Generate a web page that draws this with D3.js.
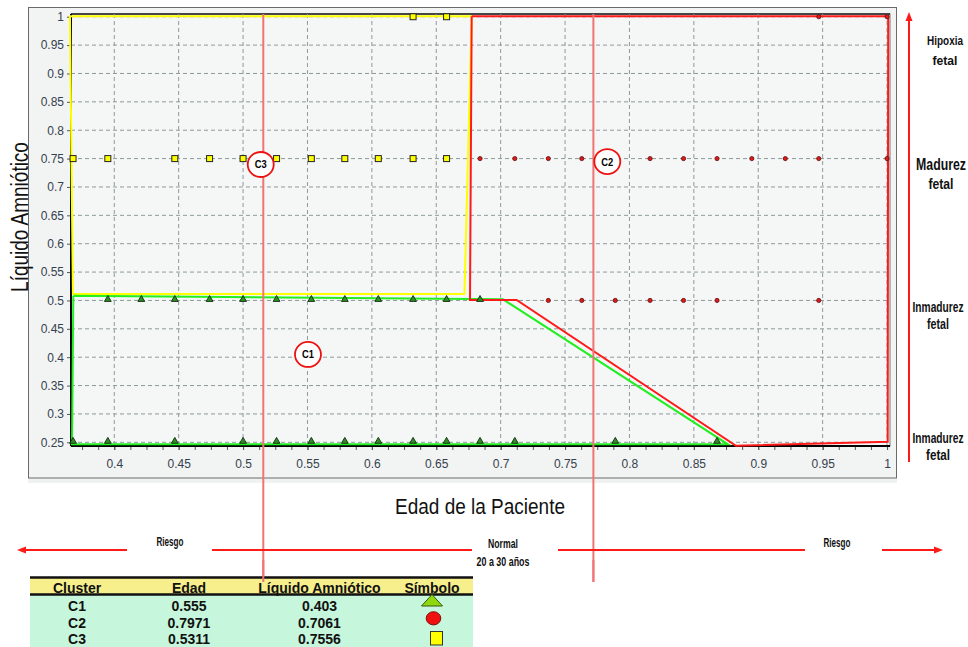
<!DOCTYPE html>
<html>
<head>
<meta charset="utf-8">
<script src="https://cdn.jsdelivr.net/npm/d3@7"></script>
<style>
  body { margin: 0; background: #fff; }
  svg { display: block; }
</style>
</head>
<body>
<svg class="chart" width="968" height="647"></svg>
<script>
// Clusters: Edad de la Paciente vs Liquido Amniotico

// ---- data ----
var xTicks = [0.4, 0.45, 0.5, 0.55, 0.6, 0.65, 0.7, 0.75, 0.8, 0.85, 0.9, 0.95, 1];
var yTicks = [0.25, 0.3, 0.35, 0.4, 0.45, 0.5, 0.55, 0.6, 0.65, 0.7, 0.75, 0.8, 0.85, 0.9, 0.95, 1];
var xMinor = [0.375, 0.3875, 0.4, 0.4125, 0.425, 0.4375, 0.45, 0.4625, 0.475, 0.4875, 0.5, 0.5125,
    0.525, 0.5375, 0.55, 0.5625, 0.575, 0.5875, 0.6, 0.6125, 0.625, 0.6375, 0.65, 0.6625, 0.675,
    0.6875, 0.7, 0.7125, 0.725, 0.7375, 0.75, 0.7625, 0.775, 0.7875, 0.8, 0.8125, 0.825, 0.8375,
    0.85, 0.8625, 0.875, 0.8875, 0.9, 0.9125, 0.925, 0.9375, 0.95, 0.9625, 0.975, 0.9875, 1];

// C1 (triangles)
var c1X = [0.395, 0.421, 0.447, 0.474, 0.500, 0.526, 0.553, 0.579, 0.605, 0.632, 0.658, 0.684,
    0.368, 0.395, 0.447, 0.500, 0.526, 0.553, 0.579, 0.605, 0.632, 0.658, 0.684, 0.711, 0.789, 0.868];
var c1Y = [0.5, 0.5, 0.5, 0.5, 0.5, 0.5, 0.5, 0.5, 0.5, 0.5, 0.5, 0.5,
    0.25, 0.25, 0.25, 0.25, 0.25, 0.25, 0.25, 0.25, 0.25, 0.25, 0.25, 0.25, 0.25, 0.25];
// C2 (circles)
var c2X = [0.947, 1.0,
    0.684, 0.711, 0.737, 0.763, 0.816, 0.842, 0.868, 0.895, 0.921, 0.947, 1.0,
    0.737, 0.763, 0.789, 0.816, 0.842, 0.868, 0.947];
var c2Y = [1, 1,
    0.75, 0.75, 0.75, 0.75, 0.75, 0.75, 0.75, 0.75, 0.75, 0.75, 0.75,
    0.5, 0.5, 0.5, 0.5, 0.5, 0.5, 0.5];
// C3 (squares)
var c3X = [0.632, 0.658,
    0.368, 0.395, 0.447, 0.474, 0.500, 0.526, 0.553, 0.579, 0.605, 0.632, 0.658];
var c3Y = [1, 1,
    0.75, 0.75, 0.75, 0.75, 0.75, 0.75, 0.75, 0.75, 0.75, 0.75, 0.75];

// cluster boundaries
var c1BoundX = [0.3682, 0.7018, 0.8765, 0.3672, 0.3682];
var c1BoundY = [0.5084, 0.5020, 0.2465, 0.2465, 0.5084];
var c2BoundX = [0.6775, 1.0009, 1.0005, 0.8827, 0.7124, 0.6762, 0.6775];
var c2BoundY = [1.001, 1.001, 0.2511, 0.2440, 0.5008, 0.5008, 1.001];
var c3BoundX = [0.3656, 0.6775, 0.6719, 0.3679, 0.3656];
var c3BoundY = [1.001, 1.001, 0.5114, 0.5114, 1.001];

// age limits (vertical red lines)
var ageLimits = [0.5157, 0.772];

// cluster label names and anchors (data units)
var clusterNames = ["C1", "C2", "C3"];
var labelX = [0.5504, 0.7828, 0.5137];
var labelY = [0.4048, 0.7448, 0.7396];

// table
var tableHeader = ["Cluster", "Edad", "Líquido Amniótico", "Símbolo"];
var tableEdad = ["0.555", "0.7971", "0.5311"];
var tableLiquido = ["0.403", "0.7061", "0.7556"];

// annotations
var rightLabels = [["Hipoxia", "fetal"], ["Madurez", "fetal"], ["Inmadurez", "fetal"], ["Inmadurez", "fetal"]];
var bottomLabels = [["Riesgo"], ["Normal", "20 a 30 años"], ["Riesgo"]];

// ---- chart ----
var svg = d3.select(".chart");
var font = "'Liberation Sans', Arial, sans-serif";

var plotL = 71, plotR = 890, plotT = 14, plotB = 446;

var x = d3.scaleLinear().domain([0.3664, 1.0023]).range([plotL, plotR]);
var y = d3.scaleLinear().domain([0.2435, 1.0048]).range([plotB, plotT]);

// condensed text: measure, then squeeze horizontally to the wanted width
function narrowText(t, cx, base, size, width, bold, rotate) {
    var el = svg.append("text")
        .attr("text-anchor", "middle")
        .attr("font-family", font)
        .attr("font-weight", bold ? "bold" : "normal")
        .attr("font-size", size + "px")
        .attr("fill", "#111")
        .text(t);
    var w = el.node().getComputedTextLength();
    var k = width / w;
    el.attr("transform", `translate(${cx}, ${base})` + (rotate ? " rotate(-90)" : "") + ` scale(${k}, 1)`);
    return el;
}

// panel
svg.append("rect")
    .attr("x", 28).attr("y", 478)
    .attr("width", 869).attr("height", 5)
    .attr("fill", "#f0f2f1");
svg.append("rect")
    .attr("x", 28.5).attr("y", 7.5)
    .attr("width", 868).attr("height", 470.5)
    .attr("fill", "#f2f4f3")
    .attr("stroke", "#6a6a6a");
svg.append("rect")
    .attr("x", plotL).attr("y", plotT)
    .attr("width", plotR - plotL).attr("height", plotB - plotT)
    .attr("fill", "#f5f7f6")
    .attr("stroke", "#777")
    .attr("stroke-width", 1);
svg.append("line")
    .attr("x1", plotL).attr("x2", plotR)
    .attr("y1", plotT).attr("y2", plotT)
    .attr("stroke", "#222").attr("stroke-width", 1.5);

// grid
svg.append("g").selectAll("line")
    .data(xTicks)
    .join("line")
    .attr("x1", function (d) { return x(d); })
    .attr("x2", function (d) { return x(d); })
    .attr("y1", plotT).attr("y2", plotB)
    .attr("stroke", "#8d9a9a")
    .attr("stroke-dasharray", "4,3");
svg.append("g").selectAll("line")
    .data(yTicks)
    .join("line")
    .attr("x1", plotL).attr("x2", plotR)
    .attr("y1", function (d) { return y(d); })
    .attr("y2", function (d) { return y(d); })
    .attr("stroke", "#8d9a9a")
    .attr("stroke-dasharray", "4,3");

// axes
var tickColor = "#36404e";
var xAxis = svg.append("g")
    .attr("transform", `translate(0, ${plotB})`)
    .call(d3.axisBottom(x).tickValues(xTicks).tickSize(4).tickPadding(9).tickFormat(function (d) { return d; }));
xAxis.select(".domain").remove();
xAxis.selectAll("line").attr("stroke", "#555");
xAxis.selectAll("text")
    .attr("font-family", font)
    .attr("font-size", "12px")
    .attr("fill", tickColor);

var xMinorAxis = svg.append("g")
    .attr("transform", `translate(0, ${plotB})`)
    .call(d3.axisBottom(x).tickValues(xMinor).tickSize(4).tickFormat(""));
xMinorAxis.select(".domain").remove();
xMinorAxis.selectAll("line").attr("stroke", "#555");

var yAxis = svg.append("g")
    .attr("transform", `translate(${plotL}, 0)`)
    .call(d3.axisLeft(y).tickValues(yTicks).tickSize(4).tickPadding(3).tickFormat(function (d) { return d; }));
yAxis.select(".domain").remove();
yAxis.selectAll("line").attr("stroke", "#555");
yAxis.selectAll("text")
    .attr("font-family", font)
    .attr("font-size", "12px")
    .attr("fill", tickColor);

// black axis lines
svg.append("line")
    .attr("x1", plotL).attr("x2", plotL)
    .attr("y1", plotT).attr("y2", plotB)
    .attr("stroke", "#000").attr("stroke-width", 2);
svg.append("line")
    .attr("x1", plotL).attr("x2", plotR)
    .attr("y1", plotB).attr("y2", plotB)
    .attr("stroke", "#000").attr("stroke-width", 2);

// boundaries
var line = d3.line()
    .x(function (d) { return x(d[0]); })
    .y(function (d) { return y(d[1]); });

function zip(xs, ys) {
    return xs.map(function (v, i) { return [v, ys[i]]; });
}

var bounds = [
    { pts: zip(c3BoundX, c3BoundY), color: "#ffff00" },
    { pts: zip(c1BoundX, c1BoundY), color: "#22ee22" },
    { pts: zip(c2BoundX, c2BoundY), color: "#ff1a1a" }
];
svg.append("g").selectAll("path")
    .data(bounds)
    .join("path")
    .attr("d", function (d) { return line(d.pts); })
    .attr("fill", "none")
    .attr("stroke", function (d) { return d.color; })
    .attr("stroke-width", 2);

// points
svg.append("g").selectAll("path")
    .data(zip(c1X, c1Y))
    .join("path")
    .attr("d", d3.symbol().type(d3.symbolTriangle).size(20))
    .attr("transform", function (d) { return `translate(${x(d[0])}, ${y(d[1]) - 1})`; })
    .attr("fill", "#2f8f22")
    .attr("stroke", "#0d2a0d")
    .attr("stroke-width", 0.9);

svg.append("g").selectAll("circle")
    .data(zip(c2X, c2Y))
    .join("circle")
    .attr("cx", function (d) { return x(d[0]); })
    .attr("cy", function (d) { return y(d[1]); })
    .attr("r", 2.1)
    .attr("fill", "#e01818")
    .attr("stroke", "#5a1010")
    .attr("stroke-width", 0.8);

svg.append("g").selectAll("rect")
    .data(zip(c3X, c3Y))
    .join("rect")
    .attr("x", function (d) { return x(d[0]) - 3; })
    .attr("y", function (d) { return y(d[1]) - 3; })
    .attr("width", 6)
    .attr("height", 6)
    .attr("fill", "#ffff00")
    .attr("stroke", "#222")
    .attr("stroke-width", 1);

// age limit lines
svg.append("g").selectAll("line")
    .data(ageLimits)
    .join("line")
    .attr("x1", function (d) { return x(d); })
    .attr("x2", function (d) { return x(d); })
    .attr("y1", plotT).attr("y2", 582)
    .attr("stroke", "#f07474")
    .attr("stroke-width", 2);

// cluster labels
var labels = svg.append("g").selectAll("g")
    .data(clusterNames)
    .join("g")
    .attr("transform", function (d, i) { return `translate(${x(labelX[i])}, ${y(labelY[i])})`; });
labels.append("ellipse")
    .attr("rx", 13)
    .attr("ry", 12.5)
    .attr("fill", "#fff")
    .attr("stroke", "#ee1111")
    .attr("stroke-width", 1.8);
labels.append("text")
    .attr("text-anchor", "middle")
    .attr("y", 4)
    .attr("font-family", font)
    .attr("font-weight", "bold")
    .attr("font-size", "11px")
    .attr("transform", "scale(0.85, 1)")
    .attr("fill", "#000")
    .text(function (d) { return d; });

// axis titles
narrowText("Edad de la Paciente", 480, 514, 22, 170, false, false);
narrowText("Líquido Amniótico", 28, 217, 24, 150, false, true);

// right arrow
svg.append("line")
    .attr("x1", 909).attr("x2", 909)
    .attr("y1", 462).attr("y2", 19)
    .attr("stroke", "#ff1a1a").attr("stroke-width", 2);
svg.append("path")
    .attr("d", "M909,12 L905.5,21 L912.5,21 Z")
    .attr("fill", "#ff1a1a");

var rightPos = [
    { cx: 945, base: [45, 65], size: [13, 13], len: [36, 25] },
    { cx: 941, base: [170, 189], size: [16, 15], len: [50, 25] },
    { cx: 938, base: [312, 329], size: [15, 14], len: [51, 22] },
    { cx: 938, base: [443, 460], size: [15, 14], len: [51, 24] }
];
rightLabels.forEach(function (lines, i) {
    var p = rightPos[i];
    lines.forEach(function (t, j) {
        narrowText(t, p.cx, p.base[j], p.size[j], p.len[j], true, false);
    });
});

// bottom arrow row
var arrowY = 550;
[[127, 24], [212, 472], [558, 805], [882, 936]].forEach(function (s) {
    svg.append("line")
        .attr("x1", s[0]).attr("x2", s[1])
        .attr("y1", arrowY).attr("y2", arrowY)
        .attr("stroke", "#ff1a1a").attr("stroke-width", 2);
});
svg.append("path").attr("d", `M17,${arrowY} L26,${arrowY - 3.5} L26,${arrowY + 3.5} Z`).attr("fill", "#ff1a1a");
svg.append("path").attr("d", `M943,${arrowY} L934,${arrowY - 3.5} L934,${arrowY + 3.5} Z`).attr("fill", "#ff1a1a");

var bottomPos = [
    { cx: 170, base: [546], len: [27] },
    { cx: 503, base: [548, 566], len: [30, 53] },
    { cx: 837, base: [547], len: [27] }
];
bottomLabels.forEach(function (lines, i) {
    var p = bottomPos[i];
    lines.forEach(function (t, j) {
        narrowText(t, p.cx, p.base[j], 12, p.len[j], true, false);
    });
});

// table
var tableL = 30, tableR = 473;
var colX = [77, 189, 319.5, 432];
var rowBase = [610.5, 627.5, 644];

svg.append("rect")
    .attr("x", tableL).attr("y", 595)
    .attr("width", tableR - tableL).attr("height", 52)
    .attr("fill", "#c6f7dc");
svg.append("rect")
    .attr("x", tableL).attr("y", 577)
    .attr("width", tableR - tableL).attr("height", 18)
    .attr("fill", "#f6ef8c");

svg.append("g").selectAll("text")
    .data(tableHeader)
    .join("text")
    .attr("x", function (d, i) { return colX[i]; })
    .attr("y", 592.5)
    .attr("text-anchor", "middle")
    .attr("font-family", font)
    .attr("font-weight", "bold")
    .attr("font-size", "14px")
    .attr("fill", "#111")
    .text(function (d) { return d; });

svg.append("line")
    .attr("x1", tableL).attr("x2", tableR)
    .attr("y1", 577.5).attr("y2", 577.5)
    .attr("stroke", "#111").attr("stroke-width", 2.5);
svg.append("line")
    .attr("x1", tableL).attr("x2", tableR)
    .attr("y1", 594.5).attr("y2", 594.5)
    .attr("stroke", "#111").attr("stroke-width", 2.5);

var rows = svg.append("g").selectAll("g")
    .data(clusterNames)
    .join("g");
[clusterNames, tableEdad, tableLiquido].forEach(function (col, c) {
    rows.append("text")
        .attr("x", colX[c])
        .attr("y", function (d, i) { return rowBase[i]; })
        .attr("text-anchor", "middle")
        .attr("font-family", font)
        .attr("font-weight", "bold")
        .attr("font-size", "14px")
        .attr("fill", "#111")
        .text(function (d, i) { return col[i]; });
});

// symbols
svg.append("path")
    .attr("d", "M432,594.5 L442.5,606 L421.5,606 Z")
    .attr("fill", "#8fd80e")
    .attr("stroke", "#3a5a10")
    .attr("stroke-width", 1);
svg.append("ellipse")
    .attr("cx", 433.5).attr("cy", 618.3)
    .attr("rx", 7.3).attr("ry", 6.6)
    .attr("fill", "#f01010")
    .attr("stroke", "#7a1010")
    .attr("stroke-width", 1);
svg.append("rect")
    .attr("x", 430.5).attr("y", 631.5)
    .attr("width", 12).attr("height", 13.5)
    .attr("fill", "#ffff00")
    .attr("stroke", "#333")
    .attr("stroke-width", 1);

// redraw the age lines over the table header
svg.append("g").selectAll("line")
    .data(ageLimits)
    .join("line")
    .attr("x1", function (d) { return x(d); })
    .attr("x2", function (d) { return x(d); })
    .attr("y1", 560).attr("y2", 582)
    .attr("stroke", "#f07474")
    .attr("stroke-width", 2);
</script>
</body>
</html>
